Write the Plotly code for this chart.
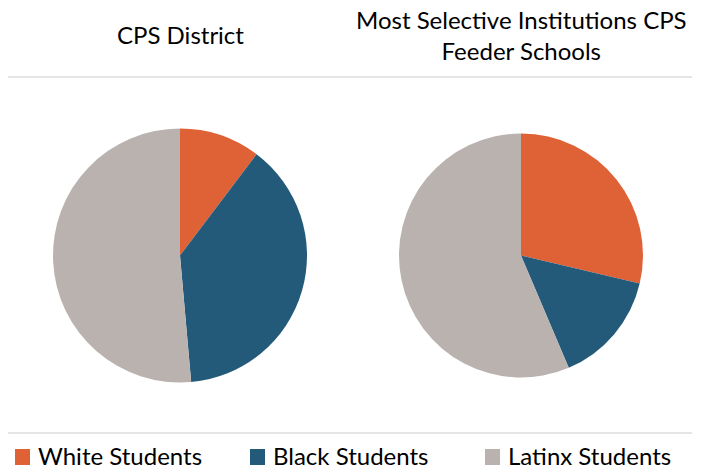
import plotly.graph_objects as go

categories = ["White Students", "Black Students", "Latinx Students"]
cps_district = [10.3, 38.3, 51.4]
selective_feeders = [28.7, 14.9, 56.4]
titles = ["CPS District", "Most Selective Institutions CPS<br>Feeder Schools"]
colors = ["#DF6236", "#235A7A", "#BAB2AE"]

W, H = 706, 471
FONT = "Lato, 'Open Sans', sans-serif"

def dom(cx, cy_top, r):
    cy = H - cy_top
    return dict(x=[(cx - r) / W, (cx + r) / W], y=[(cy - r) / H, (cy + r) / H])

fig = go.Figure()
fig.add_trace(go.Pie(labels=categories, values=cps_district, sort=False,
                     direction="clockwise", rotation=0, textinfo="none",
                     marker=dict(colors=colors, line=dict(width=0)),
                     domain=dom(180, 255.5, 127), hoverinfo="label+percent"))
fig.add_trace(go.Pie(labels=categories, values=selective_feeders, sort=False,
                     direction="clockwise", rotation=0, textinfo="none",
                     marker=dict(colors=colors, line=dict(width=0)),
                     domain=dom(521, 255.5, 122), hoverinfo="label+percent"))

fig.add_annotation(text=titles[0], x=180 / W, y=1 - 35 / H, xref="paper", yref="paper",
                   xanchor="center", yanchor="middle", showarrow=False,
                   font=dict(size=24, color="#000", family=FONT))
fig.add_annotation(text=titles[1], x=521 / W, y=1 - 35 / H, xref="paper", yref="paper",
                   xanchor="center", yanchor="middle", showarrow=False,
                   font=dict(size=24, color="#000", family=FONT))

for yy in (77, 433):
    fig.add_shape(type="line", xref="paper", yref="paper", x0=8 / W, x1=692 / W,
                  y0=1 - yy / H, y1=1 - yy / H, line=dict(color="#DDDDDD", width=1.5))

# manual legend
leg_x = [15, 250, 485]
leg_y = 455
for lx, lab, col in zip(leg_x, categories, colors):
    fig.add_shape(type="rect", xref="paper", yref="paper",
                  x0=lx / W, x1=(lx + 15) / W, y0=1 - (leg_y + 10) / H, y1=1 - (leg_y - 6) / H,
                  fillcolor=col, line=dict(width=0))
    fig.add_annotation(text=lab, x=(lx + 22) / W, y=1 - leg_y / H, xref="paper", yref="paper",
                       xanchor="left", yanchor="middle", showarrow=False, borderpad=0,
                       font=dict(size=24, color="#000", family=FONT))

fig.update_layout(
    width=W, height=H, margin=dict(l=0, r=0, t=0, b=0),
    paper_bgcolor="white", plot_bgcolor="white",
    font=dict(family=FONT, color="#000"),
    showlegend=False,
)

fig.write_html("out.html")
